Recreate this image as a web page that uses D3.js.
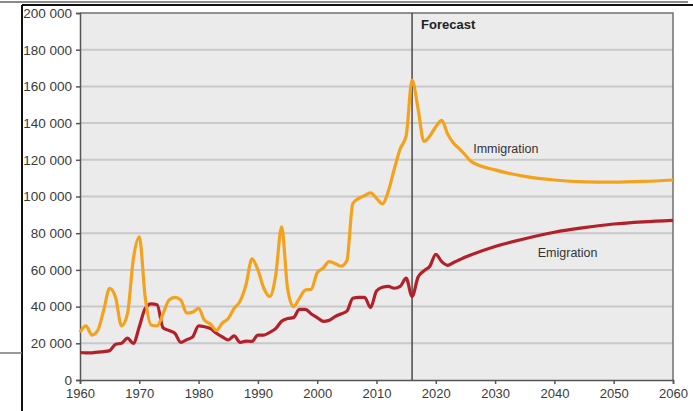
<!DOCTYPE html>
<html>
<head>
<meta charset="utf-8">
<style>
  html, body { margin:0; padding:0; background:#fff; }
  svg { display:block; font-family:"Liberation Sans", Arial, sans-serif; }
</style>
<script src="https://d3js.org/d3.v7.min.js"></script>
</head>
<body>
<svg id="chart" width="693" height="411"></svg>
<script>
// yearly history up to 2026, then the forecast in 5 year steps
var years = [1960,1961,1962,1963,1964,1965,1966,1967,1968,1969,
             1970,1971,1972,1973,1974,1975,1976,1977,1978,1979,
             1980,1981,1982,1983,1984,1985,1986,1987,1988,1989,
             1990,1991,1992,1993,1994,1995,1996,1997,1998,1999,
             2000,2001,2002,2003,2004,2005,2006,2007,2008,2009,
             2010,2011,2012,2013,2014,2015,2016,2017,2018,2019,
             2020,2021,2022,2023,2024,2025,2026,
             2030,2035,2040,2045,2050,2055,2060];

var immigration = [26000,29500,24500,27000,38000,50000,45000,29500,36000,66000,
                   78000,45000,30000,29500,36000,43500,45000,43500,36500,37000,
                   39000,32500,30500,27000,31000,33500,39000,43000,52000,66000,
                   60000,50000,45500,57000,83500,50000,40000,44500,49000,49500,
                   58500,61000,64500,63500,62000,65000,96000,99000,100500,102000,
                   99000,96000,103000,115000,126000,133000,163500,148000,130000,133000,
                   138000,141500,134000,129000,126000,122500,119000,
                   114500,111000,109000,108000,107800,108200,109000];

var emigration = [15000,14800,14800,15200,15500,16000,19500,20000,22800,20000,
                  29000,39000,41500,41000,28500,27000,25500,20500,22000,23500,
                  29500,29000,28000,25500,23500,21800,24000,20500,21200,21000,
                  24500,24500,26000,28000,32000,33500,34000,38500,38500,36000,
                  34000,32000,32500,34500,36000,37500,44500,45000,45000,39500,
                  48500,50500,51000,50000,51000,55500,45500,56000,59500,62000,
                  68500,64500,62500,64000,65500,67000,68300,
                  72800,77000,80500,83000,85000,86200,87000];

var xTicks = [1960,1970,1980,1990,2000,2010,2020,2030,2040,2050,2060];
var yTicks = [0,20000,40000,60000,80000,100000,120000,140000,160000,180000,200000];
var forecastYear = 2016;

var svg = d3.select('#chart');
var plotLeft = 80, plotRight = 673, plotTop = 13, plotBottom = 380;

var x = d3.scaleLinear().domain([1960, 2060]).range([plotLeft, plotRight]);
var y = d3.scaleLinear().domain([0, 200000]).range([plotBottom, plotTop]);

var fmt = d3.formatLocale({decimal: '.', thousands: ' ', grouping: [3], currency: ['', '']}).format(',');

// frame lines around the picture
svg.append('line').attr('x1', 0).attr('x2', 688).attr('y1', 2).attr('y2', 2)
    .attr('stroke', '#8a8a8a').attr('stroke-width', 2);
svg.append('line').attr('x1', 22).attr('x2', 693).attr('y1', 5).attr('y2', 5)
    .attr('stroke', '#111').attr('stroke-width', 2);
svg.append('line').attr('x1', 22).attr('x2', 22).attr('y1', 5).attr('y2', 411)
    .attr('stroke', '#111').attr('stroke-width', 2);
svg.append('line').attr('x1', 0).attr('x2', 22).attr('y1', 353).attr('y2', 353)
    .attr('stroke', '#777').attr('stroke-width', 1.5);

// plot background
svg.append('rect').attr('x', plotLeft).attr('y', plotTop)
    .attr('width', plotRight - plotLeft).attr('height', plotBottom - plotTop)
    .attr('fill', '#ebebeb');

// gridlines
svg.append('g').selectAll('line')
    .data(yTicks.slice(1, -1))
    .enter()
    .append('line')
    .attr('x1', plotLeft).attr('x2', plotRight)
    .attr('y1', function (d) { return y(d); })
    .attr('y2', function (d) { return y(d); })
    .attr('stroke', '#c9c9c9')
    .attr('stroke-width', 2);

// plot border (top and right)
svg.append('path')
    .attr('d', 'M' + plotLeft + ',' + plotTop + 'H' + plotRight + 'V' + plotBottom)
    .attr('fill', 'none').attr('stroke', '#707070').attr('stroke-width', 1.5);

// axes
var yAxis = svg.append('g')
    .attr('transform', 'translate(' + plotLeft + ',0)')
    .call(d3.axisLeft(y).tickValues(yTicks).tickFormat(fmt).tickSize(4).tickPadding(4));
var xAxis = svg.append('g')
    .attr('transform', 'translate(0,' + plotBottom + ')')
    .call(d3.axisBottom(x).tickValues(xTicks).tickFormat(d3.format('d')).tickSize(4).tickPadding(5));

[yAxis, xAxis].forEach(function (a) {
    a.select('.domain').attr('stroke', '#555').attr('stroke-width', 1.5);
    a.selectAll('.tick line').attr('stroke', '#555').attr('stroke-width', 1.5);
    a.selectAll('.tick text').attr('fill', '#3a3a3a');
});
yAxis.selectAll('.tick text').style('font-size', '13.5px');
xAxis.selectAll('.tick text').style('font-size', '13px');

// forecast divider
svg.append('line')
    .attr('x1', x(forecastYear)).attr('x2', x(forecastYear))
    .attr('y1', plotTop).attr('y2', plotBottom)
    .attr('stroke', '#4a4a4a').attr('stroke-width', 1.5);

svg.append('text')
    .attr('x', x(forecastYear) + 9).attr('y', 29)
    .attr('fill', '#222')
    .style('font-size', '13px').style('font-weight', 'bold')
    .text('Forecast');

// series lines
var line = d3.line()
    .x(function (d) { return x(d[0]); })
    .y(function (d) { return y(d[1]); })
    .curve(d3.curveMonotoneX);

var series = [
    {name: 'Emigration', values: emigration, color: '#b3202a', label: [2037.2, 253]},
    {name: 'Immigration', values: immigration, color: '#f4a21b', label: [2026.3, 149]}
];

series.forEach(function (s) {
    svg.append('path')
        .datum(d3.zip(years, s.values))
        .attr('d', line)
        .attr('fill', 'none')
        .attr('stroke', s.color)
        .attr('stroke-width', 3.2)
        .attr('stroke-linejoin', 'round');
    svg.append('text')
        .attr('x', x(s.label[0])).attr('y', s.label[1] + 4)
        .attr('fill', '#333')
        .style('font-size', '12.5px')
        .text(s.name);
});
</script>
</body>
</html>
